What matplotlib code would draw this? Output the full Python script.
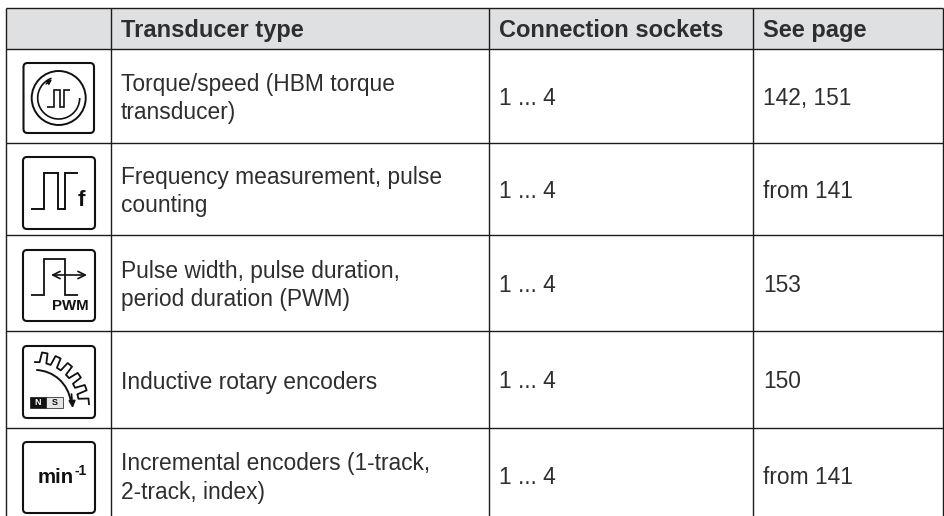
import matplotlib
matplotlib.use("Agg")
import matplotlib.pyplot as plt
from matplotlib.patches import FancyBboxPatch, Arc, Circle, Rectangle
import numpy as np

plt.rcParams["font.family"] = ["Liberation Sans", "DejaVu Sans"]

headers = ["Transducer type", "Connection sockets", "See page"]
types = [
    "Torque/speed (HBM torque\ntransducer)",
    "Frequency measurement, pulse\ncounting",
    "Pulse width, pulse duration,\nperiod duration (PWM)",
    "Inductive rotary encoders",
    "Incremental encoders (1-track,\n2-track, index)",
]
sockets = ["1 ... 4", "1 ... 4", "1 ... 4", "1 ... 4", "1 ... 4"]
pages = ["142, 151", "from 141", "153", "150", "from 141"]

col_x = [5.5, 111, 489, 753, 943]
# last row runs off the bottom of the picture
row_y = [7.5, 49, 143, 235, 331, 428, 523]
text_col = "#2e2e2e"
line_col = "#1c1c1c"
ink = "#111111"

fig = plt.figure(figsize=(9.44, 5.16), dpi=100)
ax = fig.add_axes([0, 0, 1, 1])
ax.set_xlim(0, 944)
ax.set_ylim(516, 0)
ax.axis("off")

ax.add_patch(Rectangle((col_x[0], row_y[0]), col_x[-1] - col_x[0], row_y[1] - row_y[0],
                       facecolor="#dfe0e2", edgecolor="none"))
for y in row_y[:-1]:
    ax.plot([col_x[0], col_x[-1]], [y, y], color=line_col, lw=1.0, solid_capstyle="butt")
for x in col_x:
    ax.plot([x, x], [row_y[0], 516], color=line_col, lw=1.0, solid_capstyle="butt")

for x, h in zip(col_x[1:4], headers):
    ax.text(x + 10, 37, h, fontsize=17, fontweight="bold", color=text_col, va="baseline")

for i in range(5):
    yc = (row_y[i + 1] + row_y[i + 2]) / 2
    lines = types[i].split("\n")
    if len(lines) == 2:
        ax.text(col_x[1] + 10, yc - 5.3, lines[0], fontsize=16.4, color=text_col, va="baseline")
        ax.text(col_x[1] + 10, yc + 23, lines[1], fontsize=16.4, color=text_col, va="baseline")
    else:
        ax.text(col_x[1] + 10, yc + 9, lines[0], fontsize=16.4, color=text_col, va="baseline")
    ax.text(col_x[2] + 10, yc + 9, sockets[i], fontsize=16.4, color=text_col, va="baseline")
    ax.text(col_x[3] + 10, yc + 9, pages[i], fontsize=16.4, color=text_col, va="baseline")


def icon_box(x0, y0, x1, y1):
    ax.add_patch(FancyBboxPatch((x0 + 3, y0 + 3), x1 - x0 - 6, y1 - y0 - 6,
                                boxstyle="round,pad=3,rounding_size=4",
                                facecolor="white", edgecolor=ink, lw=1.5))


def stroke(xs, ys, lw=1.4):
    ax.plot(xs, ys, color=ink, lw=lw, solid_joinstyle="miter", solid_capstyle="butt")


def arrow(tip, tail, style="-|>", size=9, lw=1.2):
    ax.annotate("", xy=tip, xytext=tail,
                arrowprops=dict(arrowstyle=style, color=ink, lw=lw, mutation_scale=size,
                                shrinkA=0, shrinkB=0))


# torque / speed
icon_box(23.5, 63, 94, 133)
ax.add_patch(Circle((58.7, 98), 27, fill=False, edgecolor=ink, lw=1.4))
ax.add_patch(Arc((58.7, 98), 42, 42, angle=0, theta1=0, theta2=250, color=ink, lw=1.2))
arrow((52, 79.5), (46, 84), size=7, lw=1.0)
stroke([47, 53.5, 53.5, 59.5, 59.5, 63.5, 63.5, 70],
       [106.5, 106.5, 89.5, 89.5, 106.5, 106.5, 89.5, 89.5], lw=1.2)

# frequency
icon_box(23, 157, 95, 229)
stroke([31, 44, 44, 57.5, 57.5, 65, 65, 78], [209, 209, 172.5, 172.5, 209, 209, 172.5, 172.5], lw=1.4)
ax.text(81, 201, "f", fontsize=16, fontweight="bold", color=ink, ha="center", va="center")

# pwm
icon_box(23, 250, 95, 321)
stroke([31, 43.5, 43.5, 65, 65, 77.5], [295, 295, 258.5, 258.5, 295, 295], lw=1.3)
arrow((87, 275), (51, 275), style="<->", size=13, lw=1.2)
ax.text(70, 306, "PWM", fontsize=10.8, fontweight="bold", color=ink, ha="center", va="center")

# inductive encoder
icon_box(23, 346, 95, 418)
tooth_x, tooth_y = [], []
cx, cy = 35, 406
for k, a in enumerate(np.linspace(87, 5, 12)):
    r = 44 if k % 2 == 0 else 54
    for b in (a + 3, a - 3):
        tooth_x.append(cx + r * np.cos(np.radians(b)))
        tooth_y.append(cy - r * np.sin(np.radians(b)))
ax.plot(tooth_x, tooth_y, color=ink, lw=1.3, solid_joinstyle="round")
ax.add_patch(Arc((35, 406), 72, 72, angle=0, theta1=-88, theta2=-8, color=ink, lw=1.4))
arrow((72.7, 408), (71.5, 394), size=10, lw=1.2)
ax.add_patch(Rectangle((30, 397), 16, 11, facecolor=ink, edgecolor=ink, lw=0.5))
ax.add_patch(Rectangle((46, 397), 17, 11, facecolor="#e4e4e4", edgecolor=ink, lw=0.5))
ax.text(38, 402.6, "N", fontsize=6.5, fontweight="bold", color="white", ha="center", va="center")
ax.text(54.5, 402.6, "S", fontsize=6.5, fontweight="bold", color=ink, ha="center", va="center")

# min-1
icon_box(23, 442, 95, 513)
ax.text(38, 477.5, "min", fontsize=14.7, fontweight="bold", color=ink, ha="left", va="center")
ax.text(74.5, 471, "-1", fontsize=10, fontweight="bold", color=ink, ha="left", va="center")

fig.savefig("out.png", dpi=100)
